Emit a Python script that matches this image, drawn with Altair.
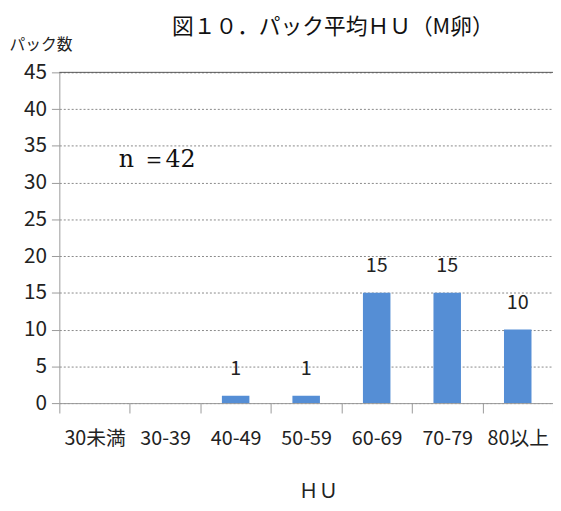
import altair as alt
import pandas as pd

categories = ["30未満", "30-39", "40-49", "50-59", "60-69", "70-79", "80以上"]
counts = [0, 0, 1, 1, 15, 15, 10]
labels = ["", "", "1", "1", "15", "15", "10"]
y_ticks = [0, 5, 10, 15, 20, 25, 30, 35, 40, 45]

df = pd.DataFrame({"cat": categories, "n": counts, "lab": labels})
JP = "Noto Sans CJK JP"

x_enc = alt.X("cat:N", sort=categories,
              scale=alt.Scale(domain=categories, paddingInner=0, paddingOuter=0),
              axis=alt.Axis(title="ＨＵ", titleFont=JP, titleFontSize=20, titleFontWeight="normal",
                            titleColor="#222", titleX=262, titleY=90, titleBaseline="middle",
                            labelAngle=0, labelFont=JP, labelFontSize=20, labelColor="#222",
                            labelPadding=16, tickBand="extent", tickSize=10, tickColor="#999",
                            domainColor="#999", grid=False, labelOverlap=False))

y_enc = alt.Y("n:Q", scale=alt.Scale(domain=[0, 45], nice=False),
              axis=alt.Axis(title="パック数", titleAngle=0, titleFont=JP, titleFontSize=16,
                            titleFontWeight="normal", titleColor="#222", titleX=-19, titleY=-28,
                            titleAlign="center", titleBaseline="middle",
                            values=y_ticks, labelFont=JP, labelFontSize=21,
                            labelColor="#222", labelPadding=5, tickSize=8, tickColor="#999",
                            labelOverlap=False,
                            domainColor="#999", gridDash=[2, 2], gridColor="#888", gridWidth=1))

base = alt.Chart(df)

bars = base.mark_bar(color="#558ED5", width=alt.RelativeBandSize(0.39)).encode(
    x=x_enc, y=y_enc).transform_filter("datum.n > 0")

text = base.mark_text(font=JP, fontSize=20, color="#222", dy=-17, baseline="bottom").encode(
    x=x_enc, y=y_enc, text="lab:N",
)

top = alt.Chart(pd.DataFrame({"n": [45]})).mark_rule(color="#555", strokeWidth=1).encode(
    y=y_enc
)

note = alt.Chart(pd.DataFrame({"t": ["n ＝42"], "cat": ["30-39"], "n": [33]})).mark_text(
    font="DejaVu Serif", fontSize=24, color="#111", dx=-8
).encode(x=x_enc, y=y_enc, text="t:N")

chart = (bars + text + note + top).properties(
    width=500, height=335,
    title=alt.TitleParams("図１０．パック平均ＨＵ（M卵）", font=JP, fontSize=22, fontWeight="normal",
                          color="#111", anchor="middle", dx=27, offset=-2),
    autosize=alt.AutoSizeParams(type="none"),
    padding={"left": 52, "top": 62, "right": 0, "bottom": 98},
).configure_view(stroke=None)

chart.save("out.html", embed_options={"renderer": "svg", "actions": False})
